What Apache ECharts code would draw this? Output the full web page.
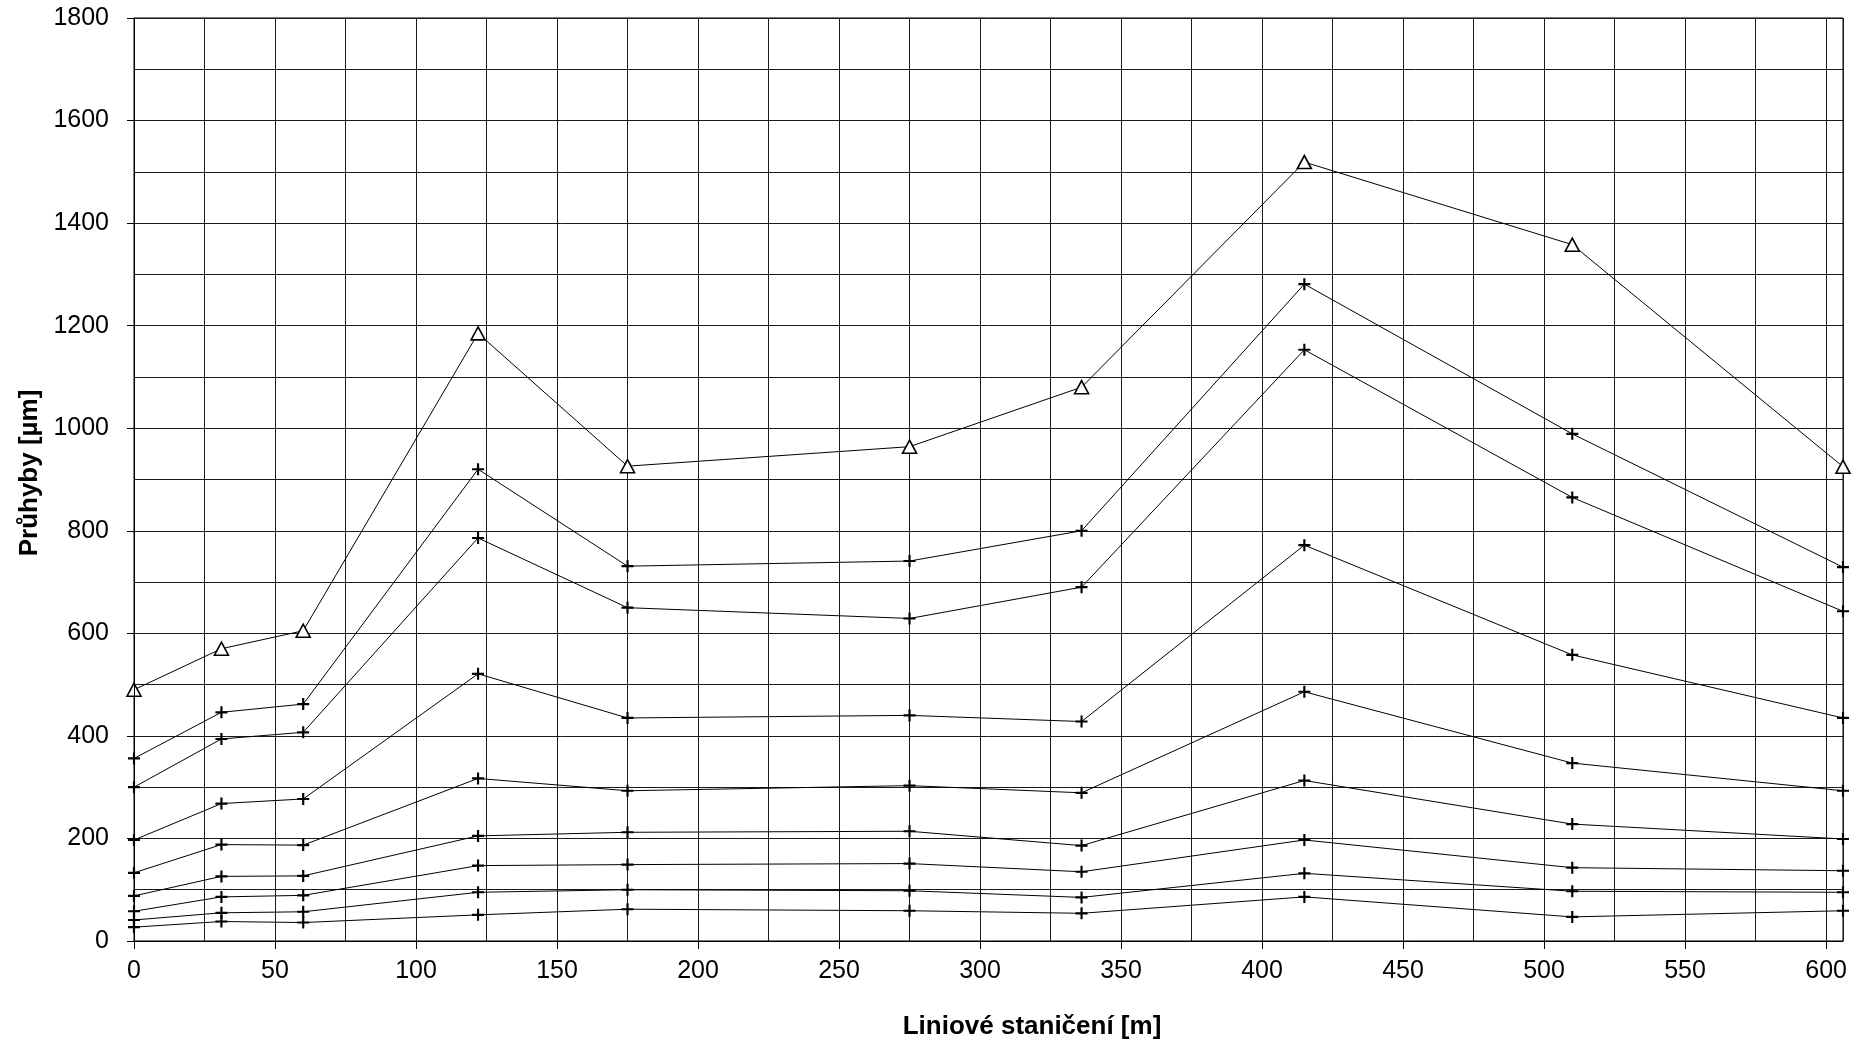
<!DOCTYPE html>
<html><head><meta charset="utf-8">
<script src="https://cdn.jsdelivr.net/npm/echarts@6/dist/echarts.min.js"></script>
<style>html,body{margin:0;padding:0;background:#fff}#c{width:1866px;height:1049px}</style>
</head><body><div id="c"></div>
<script>
// Liniové staničení [m]
const stations = [0, 31, 60, 122, 175, 275, 336, 415, 510, 606];
// Průhyby [µm], series from top to bottom
const seriesTriangle = [490, 570, 605, 1185, 926, 964, 1080, 1519, 1358, 925];
const series2 = [356, 446, 462, 920, 731, 741, 800, 1281, 989, 729];
const series3 = [300, 394, 407, 786, 650, 629, 690, 1153, 865, 643];
const series4 = [197, 268, 277, 521, 435, 440, 428, 772, 558, 435];
const series5 = [133, 188, 187, 317, 293, 303, 289, 486, 347, 293];
const series6 = [88, 126, 127, 205, 212, 214, 186, 313, 228, 199];
const series7 = [58, 86, 89, 147, 149, 151, 135, 197, 143, 137];
const series8 = [41, 55, 57, 95, 100, 98, 85, 132, 97, 95];
const series9 = [27, 38, 36, 51, 62, 59, 54, 86, 47, 59];
const xTickLabels = [0, 50, 100, 150, 200, 250, 300, 350, 400, 450, 500, 550, 600];
const yTickLabels = [0, 200, 400, 600, 800, 1000, 1200, 1400, 1600, 1800];
const xTitle = 'Liniové staničení [m]';
const yTitle = 'Průhyby [µm]';

const FONT = "'Liberation Sans', Arial, sans-serif";
const GRIDC = '#1a1a1a';
const crossSymbol = 'path://M4.1,0H5.9V4.1H10V5.9H5.9V10H4.1V5.9H0V4.1H4.1Z';

function pts(vals) { return stations.map((x, i) => [x, vals[i]]); }

const plusSeries = [series2, series3, series4, series5, series6, series7, series8, series9].map(v => ({
  type: 'line',
  data: pts(v),
  xAxisIndex: 0, yAxisIndex: 0,
  symbol: crossSymbol,
  symbolSize: 12,
  showSymbol: true,
  lineStyle: { color: '#000', width: 1 },
  itemStyle: { color: '#000', borderWidth: 0 },
  emphasis: { disabled: true },
  z: 3
}));

const triSeries = {
  type: 'line',
  data: pts(seriesTriangle),
  xAxisIndex: 0, yAxisIndex: 0,
  symbol: 'triangle',
  symbolSize: [14, 13],
  lineStyle: { color: '#000', width: 1 },
  itemStyle: { color: '#fff', borderColor: '#000', borderWidth: 1.6 },
  emphasis: { disabled: true },
  z: 4
};

const plain = v => String(v);
const chart = echarts.init(document.getElementById('c'), null, { renderer: 'canvas' });
chart.setOption({
  animation: false,
  backgroundColor: '#fff',
  grid: { left: 134, right: 23, top: 18, bottom: 108, show: true, borderColor: '#000', borderWidth: 1, containLabel: false, outerBoundsMode: 'none' },
  xAxis: [{
    type: 'value', min: 0, max: 606, interval: 50, position: 'bottom',
    axisLine: { show: true, onZero: false, lineStyle: { color: '#000', width: 1 } },
    axisTick: { show: true, customValues: xTickLabels, length: 8, lineStyle: { color: '#000', width: 1 } },
    axisLabel: { customValues: xTickLabels, formatter: plain, margin: 18, fontSize: 25, color: '#000', fontFamily: FONT },
    splitLine: { show: false },
    name: xTitle, nameLocation: 'middle', nameGap: 73,
    nameTextStyle: { fontSize: 26, fontWeight: 'bold', color: '#000', fontFamily: FONT, padding: [0, 0, 0, 87] },
    z: 5
  }, {
    type: 'value', min: 0, max: 606, interval: 25, position: 'bottom',
    axisLine: { show: false }, axisTick: { show: false }, axisLabel: { show: false },
    splitLine: { show: true, lineStyle: { color: GRIDC, width: 1 } }
  }],
  yAxis: [{
    type: 'value', min: 0, max: 1800, interval: 200, position: 'left',
    axisLine: { show: true, onZero: false, lineStyle: { color: '#000', width: 1 } },
    axisTick: { show: true, customValues: yTickLabels, length: 7, lineStyle: { color: '#000', width: 1 } },
    axisLabel: { customValues: yTickLabels, formatter: plain, margin: 25, fontSize: 25, color: '#000', fontFamily: FONT },
    splitLine: { show: false },
    name: yTitle, nameLocation: 'middle', nameGap: 91,
    nameTextStyle: { fontSize: 26, fontWeight: 'bold', color: '#000', fontFamily: FONT, padding: [0, 0, 0, 13] },
    z: 5
  }, {
    type: 'value', min: 0, max: 1800, interval: 100, position: 'left',
    axisLine: { show: false }, axisTick: { show: false }, axisLabel: { show: false },
    splitLine: { show: true, lineStyle: { color: GRIDC, width: 1 } }
  }],
  series: [triSeries, ...plusSeries]
});
</script>
</body></html>
